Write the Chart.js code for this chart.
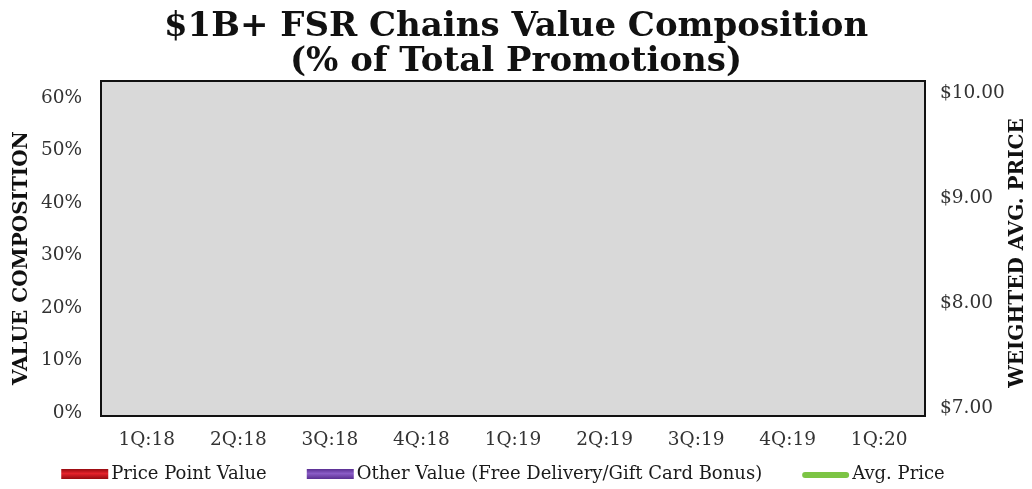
<!DOCTYPE html>
<html>
<head>
<meta charset="utf-8">
<script src="https://cdn.jsdelivr.net/npm/chart.js@4"></script>
<style>
  html, body { margin: 0; padding: 0; background: #ffffff; }
  #wrap { width: 1032px; height: 489px; }
</style>
</head>
<body>
<div id="wrap"><canvas id="c" width="1032" height="489"></canvas></div>
<script>
const quarters = ["1Q:18", "2Q:18", "3Q:18", "4Q:18", "1Q:19", "2Q:19", "3Q:19", "4Q:19", "1Q:20"];
// The reference plot shows no marks: every value is blank.
const pricePointValue = [null, null, null, null, null, null, null, null, null];
const otherValue      = [null, null, null, null, null, null, null, null, null];
const avgPrice        = [null, null, null, null, null, null, null, null, null];
const leftTicks  = [0, 10, 20, 30, 40, 50, 60];
const rightTicks = [7, 8, 9, 10];
const seriesNames = ['Price Point Value', 'Other Value (Free Delivery/Gift Card Bonus)', 'Avg. Price'];

const SERIF = "'DejaVu Serif', 'Liberation Serif', serif";

function drawRotated(ctx, text, x, y) {
  ctx.save();
  ctx.fillStyle = '#111111';
  ctx.font = "bold 20px " + SERIF;
  ctx.textAlign = 'center';
  ctx.textBaseline = 'middle';
  ctx.translate(x, y);
  ctx.rotate(-Math.PI / 2);
  ctx.fillText(text, 0, 0);
  ctx.restore();
}

const plotBox = {
  id: 'plotBox',
  beforeDatasetsDraw(chart) {
    const a = chart.chartArea, ctx = chart.ctx;
    ctx.save();
    ctx.fillStyle = '#d9d9d9';
    ctx.fillRect(a.left, a.top, a.right - a.left, a.bottom - a.top);
    ctx.restore();
  },
  afterDraw(chart) {
    const a = chart.chartArea, ctx = chart.ctx;
    ctx.save();
    ctx.strokeStyle = '#111111';
    ctx.lineWidth = 2;
    ctx.strokeRect(a.left, a.top, a.right - a.left, a.bottom - a.top);
    ctx.restore();
    drawRotated(ctx, 'VALUE COMPOSITION', 22, 258);
    drawRotated(ctx, 'WEIGHTED AVG. PRICE', 1018, 253);

    // legend
    const ds = chart.data.datasets;
    ctx.save();
    ctx.font = "18px " + SERIF;
    const boxW = 47, gapText = 3, gapItem = 40, cy = 474;
    const widths = ds.map(d => boxW + gapText + ctx.measureText(d.label).width);
    const total = widths.reduce((s, w) => s + w, 0) + gapItem * (ds.length - 1);
    let x = 503 - total / 2;
    ds.forEach((d, i) => {
      if (d.type === 'line') {
        ctx.strokeStyle = d.borderColor;
        ctx.lineWidth = 6;
        ctx.lineCap = 'round';
        ctx.beginPath();
        ctx.moveTo(x + 3, cy + 1);
        ctx.lineTo(x + boxW - 3, cy + 1);
        ctx.stroke();
      } else {
        const g = ctx.createLinearGradient(0, cy - 5, 0, cy + 5);
        g.addColorStop(0, d.borderColor);
        g.addColorStop(0.45, d.backgroundColor);
        g.addColorStop(1, d.borderColor);
        ctx.fillStyle = g;
        ctx.fillRect(x, cy - 5, boxW, 10);
      }
      ctx.fillStyle = '#1a1a1a';
      ctx.textAlign = 'left';
      ctx.textBaseline = 'middle';
      ctx.fillText(d.label, x + boxW + gapText, cy);
      x += widths[i] + gapItem;
    });
    ctx.restore();
  }
};

new Chart(document.getElementById('c'), {
  type: 'bar',
  data: {
    labels: quarters,
    datasets: [
      { label: seriesNames[0], data: pricePointValue, backgroundColor: '#e4222b', borderColor: '#960a10', borderWidth: 1, yAxisID: 'y', stack: 's' },
      { label: seriesNames[1], data: otherValue, backgroundColor: '#8a5cc6', borderColor: '#5a2f92', borderWidth: 1, yAxisID: 'y', stack: 's' },
      { label: seriesNames[2], type: 'line', data: avgPrice, backgroundColor: '#7cc444', borderColor: '#7cc444', borderWidth: 3, yAxisID: 'y1', pointRadius: 0 }
    ]
  },
  options: {
    responsive: false,
    animation: false,
    layout: { padding: 0 },
    plugins: {
      title: {
        display: true,
        text: ['$1B+ FSR Chains Value Composition', '(% of Total Promotions)'],
        color: '#111111',
        font: { family: SERIF, size: 34, weight: 'bold', lineHeight: 1.05 },
        padding: { top: 9, bottom: 0.6 }
      },
      legend: { display: false },
      tooltip: { enabled: false }
    },
    scales: {
      x: {
        stacked: true,
        afterFit(scale) { scale.height = 73; },
        grid: { display: false, drawTicks: false },
        border: { display: false },
        ticks: { color: '#333333', font: { family: SERIF, size: 18.5 }, padding: 13, maxRotation: 0 }
      },
      y: {
        position: 'left',
        stacked: true,
        min: -0.6, max: 63.2,
        afterBuildTicks(scale) { scale.ticks = leftTicks.map(v => ({ value: v })); },
        afterFit(scale) { scale.width = 101; },
        grid: { display: false, drawTicks: false },
        border: { display: false },
        ticks: { color: '#333333', font: { family: SERIF, size: 18.5 }, padding: 19, callback: v => v + '%' }
      },
      y1: {
        position: 'right',
        min: 6.924, max: 10.114,
        afterBuildTicks(scale) { scale.ticks = rightTicks.map(v => ({ value: v })); },
        afterFit(scale) { scale.width = 107; },
        grid: { display: false, drawTicks: false },
        border: { display: false },
        ticks: { color: '#333333', font: { family: SERIF, size: 18.5 }, padding: 15, callback: v => '$' + Number(v).toFixed(2) }
      }
    }
  },
  plugins: [plotBox]
});
</script>
</body>
</html>
